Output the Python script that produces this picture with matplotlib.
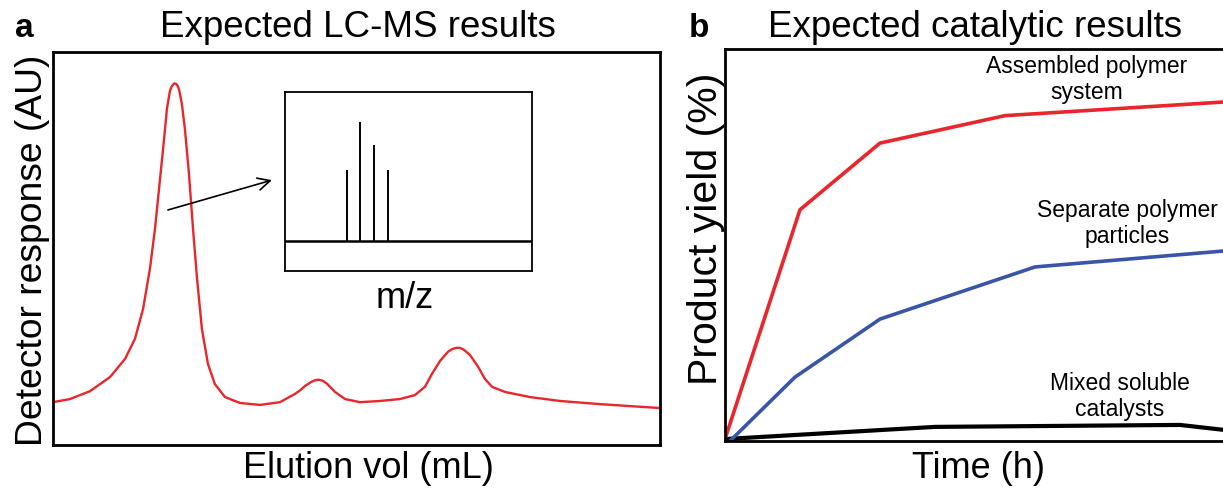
import matplotlib
matplotlib.use("Agg")
import matplotlib.pyplot as plt

plt.rcParams['font.family'] = ['Liberation Sans', 'DejaVu Sans']

# ---- Panel a: chromatogram (elution volume in mL, detector response in AU)
elution_vol = [0.0, 0.84, 1.83, 2.82, 3.56, 4.05, 4.45, 4.79, 5.04, 5.29, 5.49,
               5.63, 5.78, 5.86, 5.93, 6.01, 6.08, 6.16, 6.23, 6.37, 6.52, 6.72,
               6.92, 7.12, 7.36, 7.66, 8.00, 8.50, 9.24, 10.23, 11.22, 11.96,
               12.21, 12.45, 12.75, 12.95, 13.15, 13.35, 13.54, 13.94, 14.43,
               15.17, 16.16, 17.15, 17.89, 18.38, 18.73, 19.13, 19.52, 19.72,
               19.92, 20.10, 20.26, 20.61, 21.01, 21.35, 21.70, 22.34, 23.57,
               25.06, 27.03, 28.51, 30.0]
detector_resp = [10.9, 11.7, 13.7, 17.3, 21.9, 27.0, 34.6, 44.8, 55.0, 67.7, 77.9,
                 85.5, 90.1, 91.2, 91.7, 92.0, 91.9, 91.4, 90.4, 86.8, 80.4, 69.0,
                 55.0, 42.3, 29.5, 20.6, 15.5, 12.2, 10.7, 10.2, 10.9, 13.0,
                 13.9, 15.0, 16.0, 16.5, 16.6, 16.3, 15.6, 13.5, 11.7,
                 10.9, 11.2, 11.7, 12.7, 14.8, 18.1, 21.4, 23.7, 24.4,
                 24.7, 24.7, 24.4, 22.9, 19.9, 16.8, 14.8, 13.5, 12.2,
                 11.2, 10.4, 9.9, 9.4]

# Inset mass spectrum (isotope cluster)
mz_values = [1000, 1001, 1002, 1003]
mz_intensity = [60, 100, 81, 60]

# ---- Panel b: product yield (%) vs time (h)
time_assembled = [0, 1.5, 3.1, 5.6, 10]
yield_assembled = [0.5, 59, 76, 83, 86.5]
time_separate = [0.1, 1.4, 3.1, 6.2, 10]
yield_separate = [0, 16.3, 31.1, 44.4, 48.5]
time_mixed = [0, 4.2, 9.1, 10]
yield_mixed = [0.5, 3.6, 4.1, 2.8]

RED = '#e8262b'
BLUE = '#3a55a8'
W, H = 1223, 489

fig = plt.figure(figsize=(W / 100, H / 100), dpi=100)


def fx(px):
    return px / W


def fy(py):
    return 1 - py / H


def style_axes(ax, lw=2.0):
    ax.set_xticks([])
    ax.set_yticks([])
    for s in ax.spines.values():
        s.set_linewidth(lw)
        s.set_color('black')


# Panel a
ax_a = fig.add_axes([fx(53), fy(446), fx(660 - 53), (446 - 53) / H])
style_axes(ax_a)
ax_a.plot(elution_vol, detector_resp, color=RED, lw=1.7,
          solid_joinstyle='round', solid_capstyle='round')
ax_a.set_xlim(0, 30)
ax_a.set_ylim(0, 100)
ax_a.annotate('', xy=(10.82, 67.4), xytext=(5.68, 59.8),
              arrowprops=dict(arrowstyle='->', lw=1.2, color='black',
                              mutation_scale=22, shrinkA=0, shrinkB=0))

# Inset spectrum
ax_in = fig.add_axes([fx(285), fy(272), fx(532 - 285), (272 - 93) / H])
style_axes(ax_in, lw=1.3)
ax_in.vlines(mz_values, 0, mz_intensity, color='black', lw=1.4)
ax_in.axhline(0, color='black', lw=1.8)
ax_in.set_xlim(995.5, 1013.5)
ax_in.set_ylim(-25, 125)
fig.text(fx(405), fy(298), 'm/z', ha='center', va='center', fontsize=26)

# Panel b
ax_b = fig.add_axes([fx(725), fy(442), fx(1225 - 725), (442 - 50) / H])
style_axes(ax_b)
ax_b.spines['right'].set_visible(False)
ax_b.plot(time_mixed, yield_mixed, color='black', lw=3.0, solid_joinstyle='round')
ax_b.plot(time_separate, yield_separate, color=BLUE, lw=2.6, solid_joinstyle='round')
ax_b.plot(time_assembled, yield_assembled, color=RED, lw=2.6, solid_joinstyle='round')
ax_b.set_xlim(0, 10)
ax_b.set_ylim(0, 100)
ax_b.text(7.24, 92.5, 'Assembled polymer\nsystem', ha='center', va='center',
          fontsize=16.5)
ax_b.text(8.04, 55.7, 'Separate polymer\nparticles', ha='center', va='center',
          fontsize=16.5)
ax_b.text(7.9, 11.6, 'Mixed soluble\ncatalysts', ha='center', va='center',
          fontsize=16.5)

# Titles, panel letters and axis labels
fig.text(fx(15), fy(37), 'a', ha='left', va='baseline', fontsize=24,
         fontweight='bold')
fig.text(fx(358), fy(37), 'Expected LC-MS results', ha='center',
         va='baseline', fontsize=26.5)
fig.text(fx(689), fy(37), 'b', ha='left', va='baseline', fontsize=24,
         fontweight='bold')
fig.text(fx(975), fy(37), 'Expected catalytic results', ha='center',
         va='baseline', fontsize=26.5)
fig.text(fx(368), fy(478), 'Elution vol (mL)', ha='center', va='baseline',
         fontsize=26)
fig.text(fx(979), fy(478), 'Time (h)', ha='center', va='baseline',
         fontsize=26)
fig.text(fx(33), fy(250), 'Detector response (AU)', rotation=90,
         ha='center', va='center', fontsize=26.8)
fig.text(fx(706), fy(229), 'Product yield (%)', rotation=90,
         ha='center', va='center', fontsize=29.5)

fig.savefig('out.png', dpi=100)
